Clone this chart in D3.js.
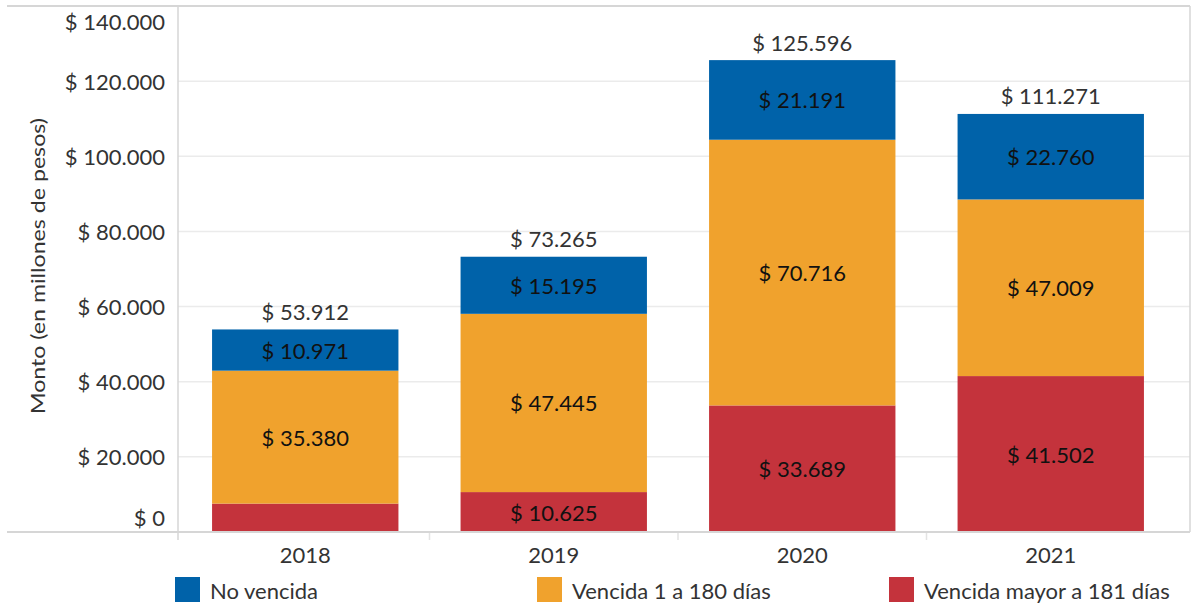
<!DOCTYPE html>
<html>
<head>
<meta charset="utf-8">
<script src="https://cdn.jsdelivr.net/npm/d3@7"></script>
<style>
  body { margin: 0; background: #fff; }
  text { font-family: Lato, "Open Sans", sans-serif; }
</style>
</head>
<body>
<div id="chart"></div>
<script>
// data
var years = ["2018", "2019", "2020", "2021"];
var series = ["Vencida mayor a 181 días", "Vencida 1 a 180 días", "No vencida"];
var vencidaMayor = [7561, 10625, 33689, 41502];
var vencida180 = [35380, 47445, 70716, 47009];
var noVencida = [10971, 15195, 21191, 22760];
var totals = [53912, 73265, 125596, 111271];
var yTicks = [0, 20000, 40000, 60000, 80000, 100000, 120000, 140000];
var legendOrder = ["No vencida", "Vencida 1 a 180 días", "Vencida mayor a 181 días"];

var colors = {
    "No vencida": "#0062a9",
    "Vencida 1 a 180 días": "#f0a22d",
    "Vencida mayor a 181 días": "#c4333c"
};

var svgWidth = 1193, svgHeight = 605;
var plotLeft = 178, plotRight = 1190, plotTop = 6, plotBottom = 532;

var svg = d3.select("#chart").append("svg")
    .attr("width", svgWidth)
    .attr("height", svgHeight);

var rows = years.map(function(yr, i) {
    var r = { year: yr };
    r[series[0]] = vencidaMayor[i];
    r[series[1]] = vencida180[i];
    r[series[2]] = noVencida[i];
    r.total = totals[i];
    return r;
});

var x = d3.scaleBand()
    .domain(years)
    .range([181, 1175])
    .paddingInner(0.25)
    .paddingOuter(0.125);

var y = d3.scaleLinear()
    .domain([0, 140000])
    .range([plotBottom, plotTop]);

var fmt = function(v) {
    return "$ " + d3.format(",")(v).replace(/,/g, ".");
};

// gridlines
svg.append("g").selectAll("line")
    .data(yTicks.slice(1, -1))
    .enter().append("line")
    .attr("x1", plotLeft).attr("x2", plotRight)
    .attr("y1", d => y(d)).attr("y2", d => y(d))
    .attr("stroke", "#ebebeb")
    .attr("stroke-width", 1.5);

// frame
svg.append("line").attr("x1", 7).attr("x2", plotRight).attr("y1", plotTop).attr("y2", plotTop)
    .attr("stroke", "#d6d6d6").attr("stroke-width", 2);
svg.append("line").attr("x1", plotRight).attr("x2", plotRight).attr("y1", plotTop).attr("y2", plotBottom)
    .attr("stroke", "#d6d6d6").attr("stroke-width", 1.5);
svg.append("line").attr("x1", plotLeft).attr("x2", plotLeft).attr("y1", plotTop).attr("y2", plotBottom + 8)
    .attr("stroke", "#d6d6d6").attr("stroke-width", 1.5);

// category separators
var seps = years.slice(1).map(function(yr, i) {
    return (x(years[i]) + x.bandwidth() + x(yr)) / 2;
});
svg.append("g").selectAll("line")
    .data(seps)
    .enter().append("line")
    .attr("x1", d => d).attr("x2", d => d)
    .attr("y1", plotBottom).attr("y2", plotBottom + 8)
    .attr("stroke", "#e3e3e3").attr("stroke-width", 1.5);

// stacked bars
var stack = d3.stack().keys(series)(rows);

var layers = svg.append("g").selectAll("g")
    .data(stack)
    .enter().append("g")
    .attr("fill", d => colors[d.key]);

layers.selectAll("rect")
    .data(d => d)
    .enter().append("rect")
    .attr("x", d => x(d.data.year))
    .attr("y", d => y(d[1]))
    .attr("width", x.bandwidth())
    .attr("height", d => y(d[0]) - y(d[1]));

// bottom axis line (over the bars)
svg.append("line").attr("x1", 7).attr("x2", plotRight).attr("y1", plotBottom).attr("y2", plotBottom)
    .attr("stroke", "#d6d6d6").attr("stroke-width", 2);

// segment labels
layers.selectAll("text")
    .data(d => d.filter(s => (s[1] - s[0]) > 9000))
    .enter().append("text")
    .attr("x", d => x(d.data.year) + x.bandwidth() / 2)
    .attr("y", d => (y(d[0]) + y(d[1])) / 2)
    .attr("text-anchor", "middle")
    .attr("dominant-baseline", "central")
    .attr("font-size", "22px")
    .attr("fill", "#111")
    .text(d => fmt(d[1] - d[0]));

// totals
svg.append("g").selectAll("text")
    .data(rows)
    .enter().append("text")
    .attr("x", d => x(d.year) + x.bandwidth() / 2)
    .attr("y", d => y(d.total) - 18)
    .attr("text-anchor", "middle")
    .attr("dominant-baseline", "central")
    .attr("font-size", "22px")
    .attr("fill", "#333")
    .text(d => fmt(d.total));

// y tick labels
svg.append("g").selectAll("text")
    .data(yTicks)
    .enter().append("text")
    .attr("x", 165)
    .attr("y", d => Math.max(21, Math.min(517, y(d))))
    .attr("text-anchor", "end")
    .attr("dominant-baseline", "central")
    .attr("font-size", "22px")
    .attr("fill", "#333")
    .text(d => fmt(d));

// y axis title
svg.append("text")
    .attr("transform", "translate(37, 266) rotate(-90)")
    .attr("text-anchor", "middle")
    .attr("dominant-baseline", "central")
    .attr("font-size", "20px")
    .attr("textLength", 296)
    .attr("lengthAdjust", "spacingAndGlyphs")
    .attr("fill", "#333")
    .text("Monto (en millones de pesos)");

// x tick labels
svg.append("g").selectAll("text")
    .data(years)
    .enter().append("text")
    .attr("x", d => x(d) + x.bandwidth() / 2)
    .attr("y", 554)
    .attr("text-anchor", "middle")
    .attr("dominant-baseline", "central")
    .attr("font-size", "22px")
    .attr("fill", "#333")
    .text(d => d);

// legend
var legendX = [175, 537, 889];
var legend = svg.append("g").selectAll("g")
    .data(legendOrder)
    .enter().append("g")
    .attr("transform", (d, i) => `translate(${legendX[i]}, 577)`);

legend.append("rect")
    .attr("width", 25).attr("height", 25)
    .attr("fill", d => colors[d]);

legend.append("text")
    .attr("x", 35)
    .attr("y", 13)
    .attr("dominant-baseline", "central")
    .attr("font-size", "22px")
    .attr("fill", "#333")
    .text(d => d);
</script>
</body>
</html>
